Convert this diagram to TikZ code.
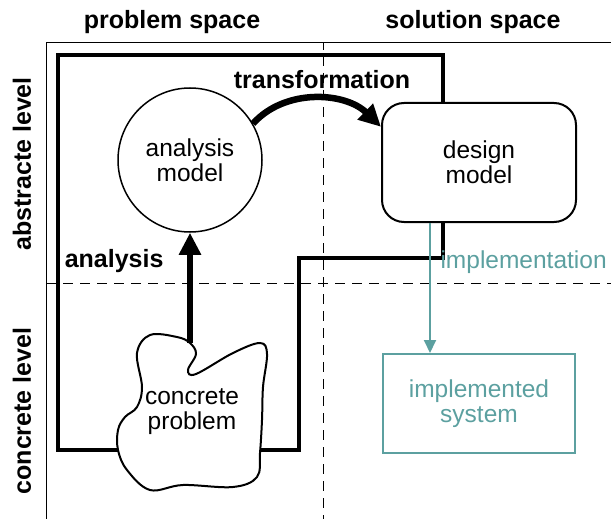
\documentclass[tikz,border=0pt]{standalone}
\usepackage{fontspec}
\setmainfont{Liberation Sans}
\usetikzlibrary{arrows.meta}
\definecolor{implteal}{RGB}{92,160,160}

\begin{document}
\begin{tikzpicture}[x=1pt,y=-1pt,
    heading/.style={font=\fontsize{25}{27}\selectfont\bfseries},
    plain/.style={font=\fontsize{24.5}{25}\selectfont,align=center},
    bigarrow/.style={line width=6.5pt,-{Triangle[length=22pt,width=21pt]}},
    implarrow/.style={draw=implteal,line width=2pt,-{Triangle[length=13pt,width=12pt]}}]
  \useasboundingbox (0,0) rectangle (611,519);
  % frame and dividers
  \draw[line width=1pt] (46,519) -- (46,43) -- (611,43);
  \draw[line width=1pt] (323,43) -- (323,50);
  \draw[line width=1pt,dash pattern=on 10pt off 7pt] (323,56) -- (323,519);
  \draw[line width=1pt,dash pattern=on 10pt off 7pt] (46,283) -- (611,283);
  % problem space region
  \draw[line width=3.5pt,line join=miter] (58,55) -- (443,55) -- (443,258)
    -- (299,258) -- (299,450) -- (58,450) -- cycle;
  % headings
  \node[heading] (pspace) at (172,22) {problem space};
  \node[heading] (sspace) at (473,22) {solution space};
  \node[heading,rotate=90] (alevel) at (22,164) {abstracte level};
  \node[heading,rotate=90] (clevel) at (22,411) {concrete level};
  % models
  \node[plain,draw,circle,line width=1.5pt,minimum size=144pt,fill=white] (amodel) at (190,160) {analysis\\model};
  \node[plain,draw,rounded corners=22pt,line width=2pt,minimum width=194pt,minimum height=119pt,fill=white] (dmodel) at (479,162.5) {design\\model};
  \node[plain,draw=implteal,text=implteal,line width=2pt,minimum width=192pt,minimum height=99pt] (isys) at (479,403.5) {implemented\\system};
  % concrete problem
  \draw[line width=2pt,fill=white] plot[smooth cycle,tension=0.6] coordinates {
    (190,343) (196,354) (188,370) (196,374) (233,353) (260,343) (267,354)
    (263,387) (262,420) (260,453) (257,477) (233,487) (183,485) (150,490)
    (127,470) (118,450) (118,430) (125,417) (137,407) (142,387) (137,353)
    (150,335) (177,337)};
  \coordinate (ctop) at (190,343);
  \node[plain] (cprob) at (192,412) {concrete\\problem};
  % connectors
  \draw[bigarrow] (ctop) -- (amodel.south);
  \node[heading,anchor=south east] (anlabel) at (167,276) {analysis};
  \draw[bigarrow] (amodel.30) .. controls (285,88) and (345,92) .. (dmodel.160);
  \node[heading] (trlabel) at (322,80) {transformation};
  \draw[implarrow] ([xshift=-49pt]dmodel.south) -- ([xshift=-49pt]isys.north);
  \node[plain,text=implteal,anchor=west] (imlabel) at (437,262) {implementation};
\end{tikzpicture}
\end{document}
